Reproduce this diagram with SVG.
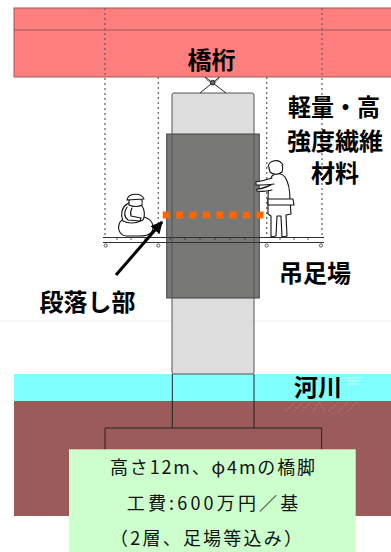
<svg xmlns="http://www.w3.org/2000/svg" width="391" height="552" viewBox="0 0 391 552">
  <style>
    .label { font-family: "Noto Sans CJK JP", "Noto Sans", sans-serif; font-weight: bold; font-size: 24px; fill: #000; text-anchor: middle; }
    .note { font-family: "Noto Sans CJK JP", "Noto Sans", sans-serif; font-size: 18px; fill: #111; }
    .guide { stroke: #666; stroke-width: 1.3; stroke-dasharray: 2 3; fill: none; }
    .fig { fill: #fff; stroke: #111; stroke-width: 1.1; stroke-linejoin: round; stroke-linecap: round; }
    .rail { stroke: #333; stroke-width: 1; fill: none; }
  </style>
  <defs>
    <marker id="arrowhead" viewBox="0 0 10 10" refX="9" refY="5" markerWidth="4" markerHeight="4" orient="auto">
      <path d="M0,0 L10,5 L0,10 z" fill="#000"/>
    </marker>
  </defs>

  <rect width="391" height="552" fill="#fff"/>
  <!-- ground level hairline -->
  <line x1="0" y1="321" x2="391" y2="321" stroke="#eee" stroke-width="1"/>

  <!-- bridge girder -->
  <g id="girder">
    <rect x="14" y="8" width="380" height="69" fill="#FF7F7F" stroke="#9a5a5a" stroke-width="1"/>
    <line x1="14" y1="30" x2="391" y2="30" stroke="#9a5a5a" stroke-width="1"/>
    <text class="label" x="211.5" y="69" font-size="25">橋桁</text>
  </g>

  <!-- river -->
  <g id="river">
    <rect x="14" y="374" width="377" height="27" fill="#80FFFF"/>
    <g stroke="#cfe" stroke-width="1">
      <line x1="344" y1="378" x2="362" y2="378"/>
      <line x1="346" y1="381" x2="360" y2="381"/>
      <line x1="348" y1="384" x2="358" y2="384"/>
    </g>
    <text class="label" x="318" y="396">河川</text>
  </g>

  <!-- riverbed -->
  <g id="riverbed">
    <rect x="14" y="401" width="377" height="115" fill="#9C5B5B"/>
    <g stroke="#b07474" stroke-width="0.8">
      <line x1="285" y1="412" x2="295" y2="402"/>
      <line x1="293" y1="412" x2="303" y2="402"/>
      <line x1="301" y1="412" x2="311" y2="402"/>
      <line x1="313" y1="412" x2="319" y2="402"/>
      <line x1="319" y1="402" x2="325" y2="412"/>
      <line x1="328" y1="412" x2="338" y2="402"/>
      <line x1="338" y1="412" x2="348" y2="402"/>
      <line x1="347" y1="412" x2="357" y2="402"/>
    </g>
  </g>

  <!-- pier column and footing -->
  <g id="pier">
    <rect x="172" y="93" width="82" height="281" rx="2" fill="#DDDDDD" stroke="#555" stroke-width="1"/>
    <line x1="172.3" y1="374" x2="172.3" y2="428" stroke="#222" stroke-width="1"/>
    <line x1="254" y1="374" x2="254" y2="428" stroke="#222" stroke-width="1"/>
    <path d="M105,470 V428 H321.7 V470" fill="none" stroke="#222" stroke-width="1"/>
  </g>

  <!-- hanger -->
  <g id="hanger" stroke="#222" stroke-width="1" fill="none">
    <path d="M206,77 A6,5 0 0 0 219,77" stroke="#888"/>
    <line x1="205" y1="77" x2="226" y2="93"/>
    <line x1="219.5" y1="77" x2="200" y2="93"/>
    <circle cx="212.7" cy="82.7" r="2.3" fill="#666"/>
  </g>

  <!-- suspension guides -->
  <g id="guides">
    <line class="guide" x1="105" y1="8" x2="105" y2="238"/>
    <line class="guide" x1="322" y1="8" x2="322" y2="238"/>
    <line class="guide" x1="158.3" y1="77" x2="158.3" y2="238"/>
    <line class="guide" x1="266.7" y1="77" x2="266.7" y2="238"/>
  </g>

  <!-- fibre wrapping -->
  <g id="wrap">
    <rect x="166.7" y="134" width="92.6" height="164" fill="#787876" stroke="#444" stroke-width="1"/>
    <line x1="172" y1="134" x2="172" y2="298" stroke="#555" stroke-width="1"/>
    <line x1="254" y1="134" x2="254" y2="298" stroke="#555" stroke-width="1"/>
  </g>

  <!-- hanging scaffold -->
  <g id="scaffold">
    <line class="rail" x1="103" y1="237.5" x2="324" y2="237.5"/>
    <line class="rail" x1="103" y1="242.5" x2="324" y2="242.5"/>
    <g stroke="#333" stroke-width="0.8">
      <line x1="117" y1="237.5" x2="117" y2="240"/>
      <line x1="131" y1="237.5" x2="131" y2="240"/>
      <line x1="145" y1="237.5" x2="145" y2="240"/>
      <line x1="170" y1="237.5" x2="170" y2="240"/>
      <line x1="185" y1="237.5" x2="185" y2="240"/>
      <line x1="200" y1="237.5" x2="200" y2="240"/>
      <line x1="215" y1="237.5" x2="215" y2="240"/>
      <line x1="230" y1="237.5" x2="230" y2="240"/>
      <line x1="245" y1="237.5" x2="245" y2="240"/>
      <line x1="280" y1="237.5" x2="280" y2="240"/>
      <line x1="294" y1="237.5" x2="294" y2="240"/>
      <line x1="308" y1="237.5" x2="308" y2="240"/>
    </g>
    <g fill="#fff" stroke="#333" stroke-width="0.8">
      <circle cx="105.7" cy="245.5" r="1.6"/>
      <circle cx="158.3" cy="245.5" r="1.6"/>
      <circle cx="266.7" cy="245.5" r="1.6"/>
      <circle cx="321" cy="245.5" r="1.6"/>
    </g>
    <text class="label" x="315" y="282">吊足場</text>
  </g>

  <!-- crouching worker -->
  <g id="worker-left">
    <!-- legs / lower body -->
    <path class="fig" d="M126,236 C119,235 117,228 120,222 C124,217 132,216 140,217 C147,216 153,221 153,227 C153,233 148,236 140,236 z"/>
    <!-- torso -->
    <path class="fig" d="M123,221 C120,214 122,207 127,204 C132,201 139,202 142,206 C145,210 145,216 143,220 C137,223 129,224 123,221 z"/>
    <!-- arms -->
    <path class="fig" d="M127,207 C124,212 124,217 128,220 L140,221 L141,218 L131,216 C130,213 131,210 132,208"/>
    <!-- head and helmet -->
    <path class="fig" d="M129,205 C128,199 131,196 136,196 C141,196 143,200 142,205 C139,207 133,207 129,205 z"/>
    <path class="fig" d="M127,200 C128,193 141,192 144,199 z"/>
  </g>

  <!-- standing worker -->
  <g id="worker-right">
    <path class="fig" d="M268,199 C268,190 269,181 272,176 C276,172 282,173 285,177 C289,183 290,192 290,200 L291,214 L286,215 L287,236 L282,237 L281,216 L277,216 L276,236 L271,237 L271,216 L268,214 z"/>
    <path class="fig" d="M268,199 L293,199 L294,205 L268,205 z"/>
    <path class="fig" d="M272,178 C266,180 262,181 256,182 L256,185 C262,185 268,185 274,184"/>
    <path class="fig" d="M271,185 C266,187 262,189 257,189 L257,191 C263,192 268,191 272,190"/>
    <path class="fig" d="M269,168 C270,162 276,160 280,163 C283,165 283,169 282,172 C279,175 273,175 270,172 z"/>
    <path class="fig" d="M268,167 C269,160 279,158 283,165"/>
  </g>

  <!-- joint line -->
  <g id="joint">
    <line x1="162.7" y1="215" x2="266" y2="215" stroke="#FF6600" stroke-width="7" stroke-dasharray="7 6.4"/>
  </g>

  <!-- connectors -->
  <g id="connectors">
    <line x1="116" y1="275" x2="162" y2="222" stroke="#000" stroke-width="3" marker-end="url(#arrowhead)"/>
  </g>

  <g id="joint-label">
    <text class="label" x="87.5" y="311">段落し部</text>
  </g>

  <g id="material-label">
    <text class="label" x="334" y="116" textLength="92" lengthAdjust="spacingAndGlyphs">軽量・高</text>
    <text class="label" x="335" y="149.5">強度繊維</text>
    <text class="label" x="335" y="182">材料</text>
  </g>

  <!-- summary box -->
  <g id="summary">
    <rect x="69" y="449.3" width="286.7" height="110" fill="#CCFFCC"/>
    <text class="note" x="110" y="474" textLength="205" lengthAdjust="spacing">高さ12m、φ4mの橋脚</text>
    <text class="note" x="126.7" y="510" textLength="171.6" lengthAdjust="spacing">工費:600万円／基</text>
    <text class="note" x="110" y="545" textLength="192" lengthAdjust="spacing">（2層、足場等込み）</text>
  </g>
</svg>
